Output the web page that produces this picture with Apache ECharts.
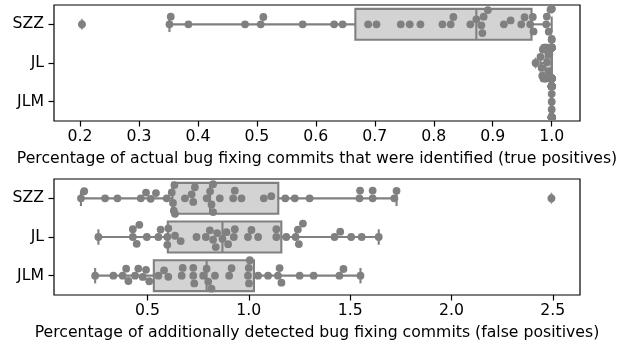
<!DOCTYPE html>
<html><head><meta charset="utf-8">
<script src="https://cdn.jsdelivr.net/npm/echarts@6/dist/echarts.min.js"></script>
<style>html,body{margin:0;padding:0;background:#fff}#c{width:624px;height:347px}</style>
</head><body><div id="c"></div>
<script>
const categories = ['SZZ', 'JL', 'JLM'];

// Top panel: true positives
const tpSZZ = [0.2034, 0.3518, 0.354, 0.384, 0.480, 0.5066, 0.511, 0.5777, 0.6311, 0.6454,
  0.6887, 0.7029, 0.7441, 0.7593, 0.7774, 0.8147, 0.8287, 0.8333, 0.862, 0.8722,
  0.8807, 0.8824, 0.8846, 0.8918, 0.9189, 0.9303, 0.9484, 0.954, 0.9636, 0.968,
  0.9692, 0.9907, 0.9917, 0.995, 0.998, 1.0, 1.0, 1.0, 1.0];
const tpJL = [0.9727, 0.981, 0.983, 0.984, 0.985, 0.986, 0.987, 0.988, 0.989, 0.989,
  0.990, 0.991, 0.992, 0.994, 0.995, 0.996, 0.997, 0.998, 0.999, 1.0,
  1.0, 1.0, 1.0, 1.0, 1.0, 1.0, 1.0, 1.0, 1.0, 1.0,
  1.0, 1.0, 1.0, 1.0, 1.0, 1.0, 1.0, 1.0, 1.0];
const tpJLM = [1.0, 1.0, 1.0, 1.0, 1.0, 1.0, 1.0, 1.0, 1.0, 1.0,
  1.0, 1.0, 1.0, 1.0, 1.0, 1.0, 1.0, 1.0, 1.0, 1.0,
  1.0, 1.0, 1.0, 1.0, 1.0, 1.0, 1.0, 1.0, 1.0, 1.0,
  1.0, 1.0, 1.0, 1.0, 1.0, 1.0, 1.0, 1.0, 1.0];

// Bottom panel: false positives
const fpSZZ = [0.172, 0.188, 0.291, 0.352, 0.467, 0.493, 0.516, 0.542, 0.595, 0.620,
  0.626, 0.630, 0.633, 0.636, 0.685, 0.718, 0.726, 0.734, 0.792, 0.809,
  0.816, 0.824, 0.824, 0.857, 0.923, 0.931, 0.964, 1.074, 1.111, 1.180,
  1.227, 1.300, 1.546, 1.549, 1.611, 1.611, 1.718, 1.729, 2.493];
const fpJL = [0.258, 0.428, 0.428, 0.447, 0.460, 0.497, 0.554, 0.565, 0.598, 0.598,
  0.603, 0.636, 0.664, 0.742, 0.788, 0.808, 0.824, 0.837, 0.844, 0.870,
  0.890, 0.898, 0.926, 0.931, 0.996, 1.013, 1.046, 1.136, 1.136, 1.185,
  1.231, 1.242, 1.247, 1.267, 1.423, 1.451, 1.505, 1.557, 1.641];
const fpJLM = [0.242, 0.332, 0.378, 0.395, 0.406, 0.439, 0.455, 0.477, 0.493, 0.509,
  0.554, 0.582, 0.603, 0.669, 0.674, 0.726, 0.726, 0.731, 0.775, 0.792,
  0.800, 0.816, 0.833, 0.903, 0.915, 0.996, 1.000, 1.001, 1.005, 1.046,
  1.095, 1.144, 1.152, 1.161, 1.251, 1.320, 1.447, 1.467, 1.551];

const tpTicks = [0.2, 0.3, 0.4, 0.5, 0.6, 0.7, 0.8, 0.9, 1.0];
const fpTicks = [0.5, 1.0, 1.5, 2.0, 2.5];
const tpTitle = 'Percentage of actual bug fixing commits that were identified (true positives)';
const fpTitle = 'Percentage of additionally detected bug fixing commits (false positives)';

const FONT = 'DejaVu Sans';
const FS = 15.7;
const EDGE = '#808080';
const BOXFILL = '#d3d3d3';
const DOTC = '#808080';
const DOT = 7.8;
const LW = 2.1;

function quantile(s, q) {
  const pos = (s.length - 1) * q, lo = Math.floor(pos), hi = Math.ceil(pos);
  return s[lo] + (s[hi] - s[lo]) * (pos - lo);
}
function boxStats(vals) {
  const s = [...vals].sort((a, b) => a - b);
  const q1 = quantile(s, 0.25), med = quantile(s, 0.5), q3 = quantile(s, 0.75);
  const iqr = q3 - q1, lo = q1 - 1.5 * iqr, hi = q3 + 1.5 * iqr;
  const inside = s.filter(v => v >= lo && v <= hi);
  return { min: inside[0], q1, med, q3, max: inside[inside.length - 1], out: s.filter(v => v < lo || v > hi) };
}

function swarmOffsets(px, d, lim) {
  const idx = px.map((x, i) => i).sort((a, b) => px[a] - px[b]);
  const placed = [];
  const off = new Array(px.length);
  for (const i of idx) {
    const x = px[i];
    const nb = placed.filter(p => Math.abs(p.x - x) < d);
    const cands = [0];
    for (const n of nb) cands.push(n.y - Math.sqrt(Math.max(0, d * d - (n.x - x) ** 2)));
    for (const n of nb) cands.push(n.y + Math.sqrt(Math.max(0, d * d - (n.x - x) ** 2)));
    const order = cands.map((c, k) => [Math.abs(c), k, c]).sort((a, b) => (a[0] - b[0]) || (a[1] - b[1]));
    let y = 0;
    for (const o of order) {
      const c = o[2];
      if (nb.every(n => (n.x - x) ** 2 + (n.y - c) ** 2 >= d * d - 1e-6)) { y = c; break; }
    }
    placed.push({ x, y });
    off[i] = y;
  }
  return off.map(y => Math.max(-lim, Math.min(lim, y)));
}

function boxRender(params, api) {
  const c = api.value(0);
  const pMin = api.coord([api.value(1), c]), pQ1 = api.coord([api.value(2), c]),
        pMed = api.coord([api.value(3), c]), pQ3 = api.coord([api.value(4), c]),
        pMax = api.coord([api.value(5), c]);
  const band = api.size([0, 1])[1];
  const h = band * 0.4, y = pMin[1], cap = h / 2;
  const ls = { stroke: EDGE, lineWidth: LW, fill: null };
  return { type: 'group', children: [
    { type: 'line', shape: { x1: pMin[0], y1: y, x2: pQ1[0], y2: y }, style: ls },
    { type: 'line', shape: { x1: pQ3[0], y1: y, x2: pMax[0], y2: y }, style: ls },
    { type: 'line', shape: { x1: pMin[0], y1: y - cap, x2: pMin[0], y2: y + cap }, style: ls },
    { type: 'line', shape: { x1: pMax[0], y1: y - cap, x2: pMax[0], y2: y + cap }, style: ls },
    { type: 'rect', shape: { x: pQ1[0], y: y - h, width: pQ3[0] - pQ1[0], height: 2 * h },
      style: { fill: BOXFILL, stroke: EDGE, lineWidth: LW } },
    { type: 'line', shape: { x1: pMed[0], y1: y - h, x2: pMed[0], y2: y + h }, style: ls }
  ] };
}

const swarmCache = {};
function makeDotRender(key, lists) {
  return function (params, api) {
    if (!swarmCache[key]) {
      const ppu = api.coord([1, 0])[0] - api.coord([0, 0])[0];
      const band = api.size([0, 1])[1];
      swarmCache[key] = lists.map(vals => swarmOffsets(vals.map(v => v * ppu), DOT, band * 0.4));
    }
    const v = api.value(0), c = api.value(1), k = api.value(2);
    const p = api.coord([v, c]);
    return { type: 'circle', shape: { cx: p[0], cy: p[1] + swarmCache[key][c][k], r: DOT / 2 },
             style: { fill: DOTC } };
  };
}

function panelSeries(gi, lists, key) {
  const stats = lists.map(boxStats);
  const boxData = stats.map((s, i) => [i, s.min, s.q1, s.med, s.q3, s.max]);
  const outData = [];
  stats.forEach((s, i) => s.out.forEach(v => outData.push([v, i])));
  const dotData = [];
  lists.forEach((vals, i) => vals.forEach((v, k) => dotData.push([v, i, k])));
  return [
    { type: 'custom', xAxisIndex: gi, yAxisIndex: gi, z: 2, data: boxData,
      encode: { x: [1, 2, 3, 4, 5], y: 0 }, renderItem: boxRender, silent: true },
    { type: 'scatter', xAxisIndex: gi, yAxisIndex: gi, z: 3, data: outData,
      symbol: 'diamond', symbolSize: [8, 12], itemStyle: { color: EDGE }, silent: true },
    { type: 'custom', xAxisIndex: gi, yAxisIndex: gi, z: 4, data: dotData,
      encode: { x: 0, y: 1 }, renderItem: makeDotRender(key, lists), silent: true }
  ];
}

function xAxis(gi, min, max, ticks, title) {
  return {
    type: 'value', gridIndex: gi, min, max, splitLine: { show: false },
    axisLine: { show: false },
    axisTick: { show: true, length: 5.5, customValues: ticks, lineStyle: { color: '#000', width: 1.2 } },
    axisLabel: { customValues: ticks, formatter: v => v.toFixed(1), color: '#000',
                 fontFamily: FONT, fontSize: FS, margin: 8 },
    name: title, nameLocation: 'middle', nameGap: 30,
    nameTextStyle: { color: '#000', fontFamily: FONT, fontSize: FS }
  };
}
function yAxis(gi) {
  return {
    type: 'category', gridIndex: gi, data: categories, inverse: true,
    axisLine: { show: false }, splitLine: { show: false },
    axisTick: { show: true, length: 5.5, alignWithLabel: true, lineStyle: { color: '#000', width: 1.2 } },
    axisLabel: { color: '#000', fontFamily: FONT, fontSize: FS, margin: 10 }
  };
}

const chart = echarts.init(document.getElementById('c'), null, { renderer: 'canvas' });
chart.setOption({
  animation: false,
  backgroundColor: '#fff',
  grid: [
    { left: 54, top: 5, width: 526, height: 116, show: true, borderColor: '#000', borderWidth: 1.2, backgroundColor: 'transparent' },
    { left: 54, top: 179, width: 526, height: 116, show: true, borderColor: '#000', borderWidth: 1.2, backgroundColor: 'transparent' }
  ],
  xAxis: [xAxis(0, 0.156, 1.048, tpTicks, tpTitle), xAxis(1, 0.039, 2.634, fpTicks, fpTitle)],
  yAxis: [yAxis(0), yAxis(1)],
  series: [...panelSeries(0, [tpSZZ, tpJL, tpJLM], 'tp'), ...panelSeries(1, [fpSZZ, fpJL, fpJLM], 'fp')]
});
</script></body></html>
